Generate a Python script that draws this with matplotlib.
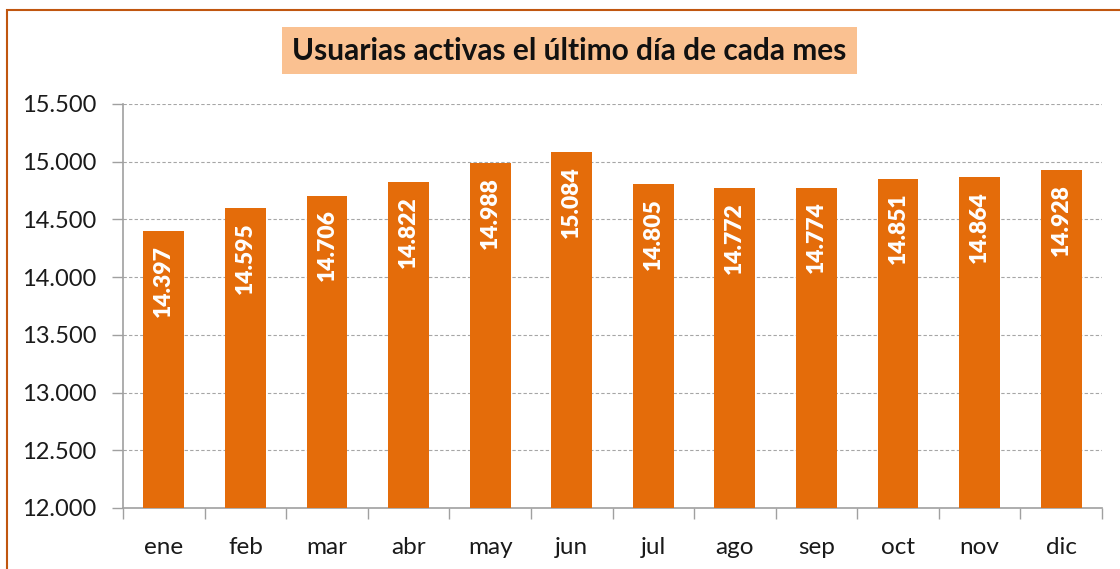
import matplotlib
matplotlib.use("Agg")
import matplotlib.pyplot as plt
from matplotlib.patches import Rectangle
from matplotlib.ticker import FuncFormatter, FixedLocator

months = ["ene", "feb", "mar", "abr", "may", "jun", "jul", "ago", "sep", "oct", "nov", "dic"]
values = [14397, 14595, 14706, 14822, 14988, 15084, 14805, 14772, 14774, 14851, 14864, 14928]
title = "Usuarias activas el último día de cada mes"

plt.rcParams['font.family'] = ['Lato', 'DejaVu Sans']

W, H = 1120, 569
fig = plt.figure(figsize=(W / 100, H / 100), dpi=100)
ax = fig.add_axes([123 / W, 1 - 508 / H, (1102 - 123) / W, (508 - 104) / H])

bar_color = "#E46C0A"
x = list(range(len(months)))
bars = ax.bar(x, values, width=0.5, color=bar_color, zorder=3)

ax.set_xlim(-0.5, len(months) - 0.5)
ax.set_ylim(12000, 15500)
ax.set_yticks([12000 + 500 * i for i in range(8)])
ax.yaxis.set_major_formatter(FuncFormatter(lambda v, p: f"{int(v):,}".replace(",", ".")))
ax.grid(axis='y', color="#A6A6A6", linestyle=(0, (3, 2)), linewidth=0.8, zorder=0)

ax.set_xticks(x)
ax.set_xticklabels(months)
ax.xaxis.set_minor_locator(FixedLocator([i - 0.5 for i in range(len(months) + 1)]))
ax.tick_params(axis='x', which='major', length=0, pad=21, labelsize=17.5, labelcolor="#1a1a1a")
ax.tick_params(axis='x', which='minor', length=8, color="#A0A0A0", width=1)
ax.tick_params(axis='y', length=8, color="#A0A0A0", width=1, pad=11, labelsize=17, labelcolor="#1a1a1a")

for s in ["top", "right"]:
    ax.spines[s].set_visible(False)
for s in ["left", "bottom"]:
    ax.spines[s].set_color("#A0A0A0")
    ax.spines[s].set_linewidth(1.2)

for b, v in zip(bars, values):
    ax.annotate(f"{v:,}".replace(",", "."), xy=(b.get_x() + b.get_width() / 2, v),
                xytext=(0, -10), textcoords="offset points", rotation=90,
                ha="center", va="top", color="white", fontsize=16.5, fontweight="heavy", zorder=4)

# title box
fig.patches.append(Rectangle((282 / W, 1 - 74 / H), (857 - 282) / W, (74 - 27) / H,
                             transform=fig.transFigure, facecolor="#FAC191", edgecolor="none"))
fig.text(569.5 / W, 1 - 51 / H, title, ha="center", va="center",
         fontsize=21.5, fontweight="bold", color="#111111")

# outer border
fig.patches.append(Rectangle((7 / W, -0.1), 2, (569 - 10) / H + 0.1, transform=fig.transFigure,
                             facecolor="none", edgecolor="#C0560F", linewidth=1.5))

fig.savefig("out.png", dpi=100)
